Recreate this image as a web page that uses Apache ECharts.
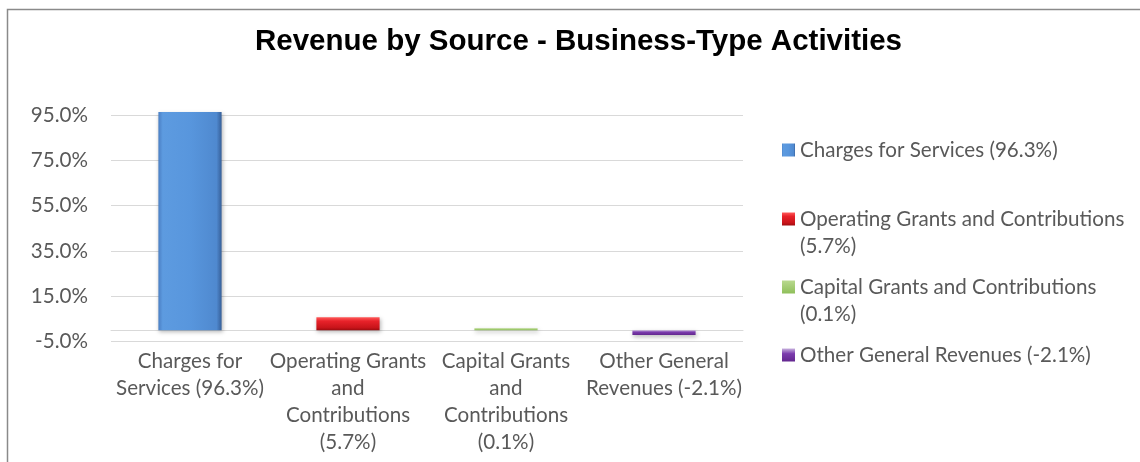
<!DOCTYPE html>
<html>
<head>
<meta charset="utf-8">
<script src="https://cdn.jsdelivr.net/npm/echarts@6/dist/echarts.min.js"></script>
<style>html,body{margin:0;padding:0;background:#fff}#c{width:1140px;height:462px}</style>
</head>
<body>
<div id="c"></div>
<script>
const titleText = 'Revenue by Source - Business-Type Activities';
const categories = ['Charges for Services (96.3%)', 'Operating Grants and Contributions (5.7%)', 'Capital Grants and Contributions (0.1%)', 'Other General Revenues (-2.1%)'];
const values = [96.3, 5.7, 0.1, -2.1];
const axisLabels = ['Charges for\nServices (96.3%)', 'Operating Grants\nand\nContributions\n(5.7%)', 'Capital Grants\nand\nContributions\n(0.1%)', 'Other General\nRevenues (-2.1%)'];
const legendLabels = ['Charges for Services (96.3%)', 'Operating Grants and Contributions\n(5.7%)', 'Capital Grants and Contributions\n(0.1%)', 'Other General Revenues (-2.1%)'];
const yMin = -5, yMax = 95, yStep = 20;

function fitSize(text, family, weight, target) {
  const ctx = document.createElement('canvas').getContext('2d');
  ctx.font = weight + ' 100px ' + family;
  return 100 * target / ctx.measureText(text).width;
}
const FONT = 'Lato';
const fs = Math.round(fitSize('Operating Grants and Contributions', FONT, 'normal', 325) * 10) / 10;
const tfs = Math.round(fitSize(titleText, '"Liberation Sans"', 'bold', 647) * 10) / 10;
const LH = 27;

const grad = (dir, stops) => ({
  type: 'linear', x: 0, y: 0, x2: dir === 'h' ? 1 : 0, y2: dir === 'h' ? 0 : 1,
  colorStops: stops.map(s => ({offset: s[0], color: s[1]}))
});
const fills = [
  grad('h', [[0, '#4a7fc4'], [0.07, '#5d9be0'], [0.5, '#5896dd'], [0.92, '#4f89cf'], [1, '#365f98']]),
  grad('v', [[0, '#ff5a5a'], [0.3, '#e8222a'], [0.8, '#c8141a'], [1, '#9e0c10']]),
  grad('v', [[0, '#b9d98f'], [1, '#8fbf5a']]),
  grad('v', [[0, '#c8b2de'], [0.4, '#7c3cae'], [1, '#63278f']])
];

const series = categories.map((name, i) => ({
  name: name,
  type: 'bar',
  stack: 'all',
  clip: false,
  barWidth: '40%',
  barMinHeight: i === 2 ? 2 : 0,
  data: categories.map((c, j) => (j === i ? values[i] : '-')),
  itemStyle: {
    color: fills[i],
    shadowBlur: 4,
    shadowColor: 'rgba(0,0,0,0.28)',
    shadowOffsetX: 1,
    shadowOffsetY: 2
  }
}));

const legendCenters = [150, 219, 287, 355];
const legends = categories.map((name, i) => {
  const two = legendLabels[i].indexOf('\n') >= 0;
  return {
    data: [name],
    left: 782,
    top: legendCenters[i] - (two ? LH * 1.5 : LH / 2),
    padding: 0,
    itemWidth: 13,
    itemHeight: 13,
    icon: 'rect',
    selectedMode: false,
    // a leading empty line keeps the first text line level with the icon
    formatter: () => (two ? '\n' : '') + legendLabels[i],
    textStyle: {fontFamily: FONT, fontSize: fs, color: '#595959', lineHeight: LH}
  };
});

const chart = echarts.init(document.getElementById('c'), null, {renderer: 'canvas'});
chart.setOption({
  backgroundColor: '#ffffff',
  animation: false,
  title: {
    text: titleText,
    left: 255,
    top: 27,
    padding: 0,
    textStyle: {fontFamily: '"Liberation Sans"', fontWeight: 'bold', fontSize: tfs, color: '#000000'}
  },
  legend: legends,
  grid: {left: 111, right: 397, top: 115, bottom: 120.5, containLabel: false},
  xAxis: {
    type: 'category',
    data: categories,
    axisLine: {onZero: true, lineStyle: {color: '#d9d9d9', width: 1}},
    axisTick: {show: false},
    axisLabel: {
      interval: 0,
      margin: 6,
      fontFamily: FONT, fontSize: fs, color: '#595959', lineHeight: LH,
      formatter: (v, i) => axisLabels[i]
    }
  },
  yAxis: {
    type: 'value',
    min: yMin, max: yMax, interval: yStep,
    axisLine: {show: false},
    axisTick: {show: false},
    splitLine: {lineStyle: {color: '#d9d9d9', width: 1}},
    axisLabel: {
      margin: 23,
      fontFamily: FONT, fontSize: fs, color: '#595959',
      formatter: v => v.toFixed(1) + '%'
    }
  },
  series: series,
  graphic: [{
    type: 'polyline',
    silent: true,
    shape: {points: [[7.5, 462], [7.5, 9.5], [1140, 9.5]]},
    style: {stroke: '#8a8a8a', lineWidth: 1.5, fill: null}
  }]
});
</script>
</body>
</html>
